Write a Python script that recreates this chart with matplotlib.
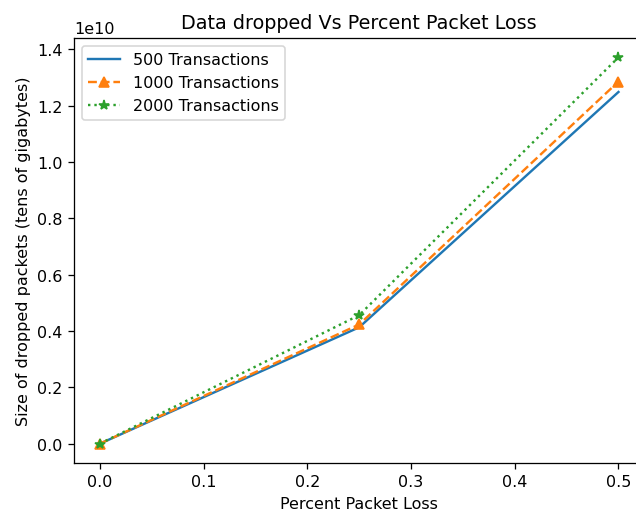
import matplotlib
matplotlib.use("Agg")
import matplotlib.pyplot as plt

loss = [0.0, 0.25, 0.5]
t500 = [0.0, 4.13e9, 1.248e10]
t1000 = [0.0, 4.23e9, 1.285e10]
t2000 = [0.0, 4.56e9, 1.371e10]

DPI = 115
W, H = 636, 511
fig = plt.figure(figsize=(W / DPI, H / DPI), dpi=DPI)
ax = fig.add_axes([74 / W, 1 - 464 / H, 570.4 / W, 425 / H])
ax.plot(loss, t500, '-', label='500 Transactions')
ax.plot(loss, t1000, '--^', label='1000 Transactions')
ax.plot(loss, t2000, ':*', label='2000 Transactions')
ax.set_title('Data dropped Vs Percent Packet Loss')
ax.set_xlabel('Percent Packet Loss')
ax.set_ylabel('Size of dropped packets (tens of gigabytes)')
ax.legend(loc='upper left')
fig.savefig('out.png', dpi=DPI)
